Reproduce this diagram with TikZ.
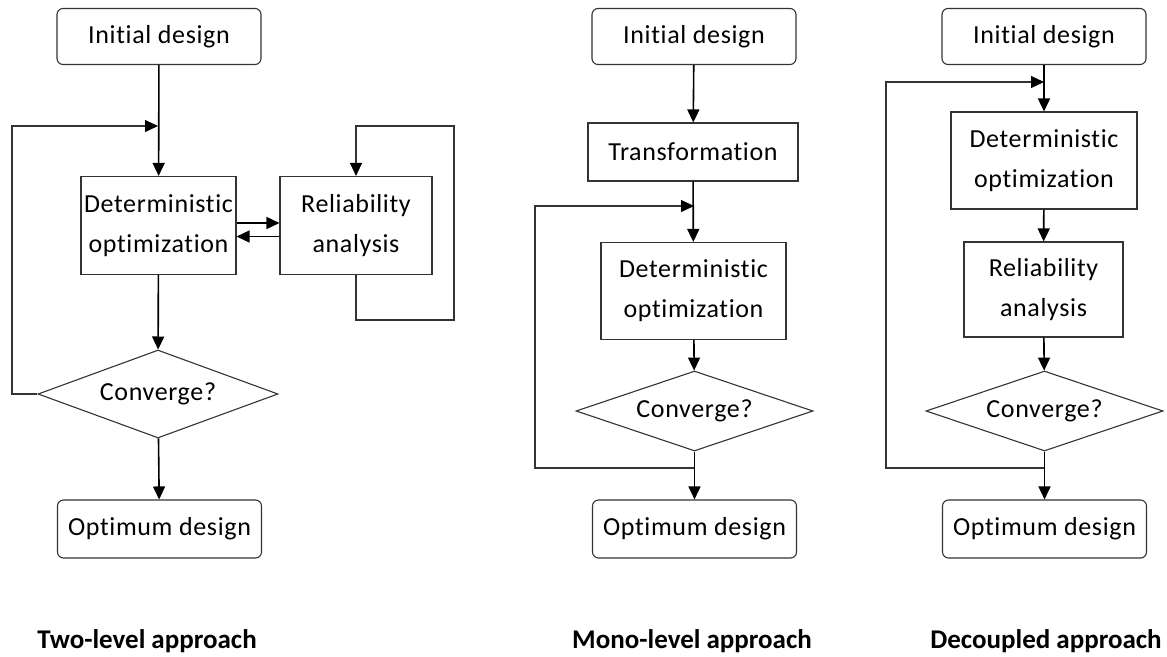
\documentclass[tikz,border=0pt]{standalone}
\usepackage{fontspec}
\setmainfont{Carlito}[Ligatures={NoCommon,NoRare}]
\newfontfamily\boxfont{Carlito}[Ligatures={NoCommon,NoRare},LetterSpace=2.5]
\usetikzlibrary{shapes.geometric,arrows.meta}
\begin{document}
\begin{tikzpicture}[x=1pt,y=-1pt,
  box/.style={draw=black!80, line width=1.1pt, fill=white, align=center,
    inner sep=0pt, font=\boxfont\fontsize{26}{40}\selectfont},
  term/.style={box, rounded corners=6pt, minimum width=204pt, minimum height=56pt},
  proc/.style={box, rectangle},
  dec/.style={box, diamond, aspect=2.7},
  tip/.style={-{Triangle[length=13pt,width=12pt,color=black]}},
  arr/.style={tip, line width=1.6pt, draw=black},
  back/.style={tip, line width=1.1pt, draw=black!80},
  caption/.style={font=\fontsize{27}{30}\selectfont\bfseries}
]
\useasboundingbox (0,0) rectangle (1167,656);

% ---------------- Two-level approach ----------------
\node[term] (i1) at (159,36.5) {Initial design};
\node[proc, minimum width=155pt, minimum height=98pt] (det1) at (158.5,225.5) {Deterministic\\optimization};
\node[proc, minimum width=152pt, minimum height=98pt] (rel1) at (356,225.5) {Reliability\\analysis};
\node[dec, minimum width=240pt, minimum height=88pt] (cv1) at (158,394) {Converge?};
\node[term, minimum height=58pt] (o1) at (159.5,529) {Optimum design};
\node[caption] (t1) at (147,641) {Two-level approach};

\coordinate (m1) at (158,126);
\coordinate (l1) at (12,126);
\coordinate (ra) at (454,320);
\coordinate (rb) at (454,126);

\draw[arr] (i1) -- (det1);
\draw[back] (cv1.west) -| (l1) -- (m1);
\draw[arr] (det1.east |- 0,223) -- (rel1.west |- 0,223);
\draw[arr] (rel1.west |- 0,236.5) -- (det1.east |- 0,236.5);
\draw[back] (rel1.south) |- (ra) -- (rb) -| (rel1.north);
\draw[arr] (det1) -- (cv1);
\draw[arr] (cv1) -- (o1);

% ---------------- Mono-level approach ----------------
\node[term] (i2) at (694,36.5) {Initial design};
\node[proc, minimum width=210pt, minimum height=58pt] (tr2) at (693,152) {Transformation};
\node[proc, minimum width=185pt, minimum height=97pt] (det2) at (693.5,291) {Deterministic\\optimization};
\node[dec, minimum width=237pt, minimum height=80pt] (cv2) at (694.5,411) {Converge?};
\node[term, minimum height=58pt] (o2) at (694.5,529) {Optimum design};
\node[caption] (t2) at (692,641) {Mono-level approach};

\coordinate (m2) at (694,206);
\coordinate (l2) at (535,206);
\coordinate (b2) at (694,468);

\draw[arr] (i2) -- (tr2);
\draw[arr] (tr2) -- (det2);
\draw[back] (b2) -| (l2) -- (m2);
\draw[arr] (det2) -- (cv2);
\draw[arr] (cv2) -- (o2);

% ---------------- Decoupled approach ----------------
\node[term] (i3) at (1044,36.5) {Initial design};
\node[proc, minimum width=186pt, minimum height=97pt] (det3) at (1044,160.5) {Deterministic\\optimization};
\node[proc, minimum width=159pt, minimum height=95pt] (rel3) at (1043.5,289.5) {Reliability\\analysis};
\node[dec, minimum width=237pt, minimum height=80pt] (cv3) at (1044.5,411) {Converge?};
\node[term, minimum height=58pt] (o3) at (1044.5,529) {Optimum design};
\node[caption] (t3) at (1046,641) {Decoupled approach};

\coordinate (m3) at (1044,82);
\coordinate (l3) at (886,82);
\coordinate (b3) at (1044,468);

\draw[arr] (i3) -- (det3);
\draw[back] (b3) -| (l3) -- (m3);
\draw[arr] (det3) -- (rel3);
\draw[arr] (rel3) -- (cv3);
\draw[arr] (cv3) -- (o3);
\end{tikzpicture}
\end{document}
